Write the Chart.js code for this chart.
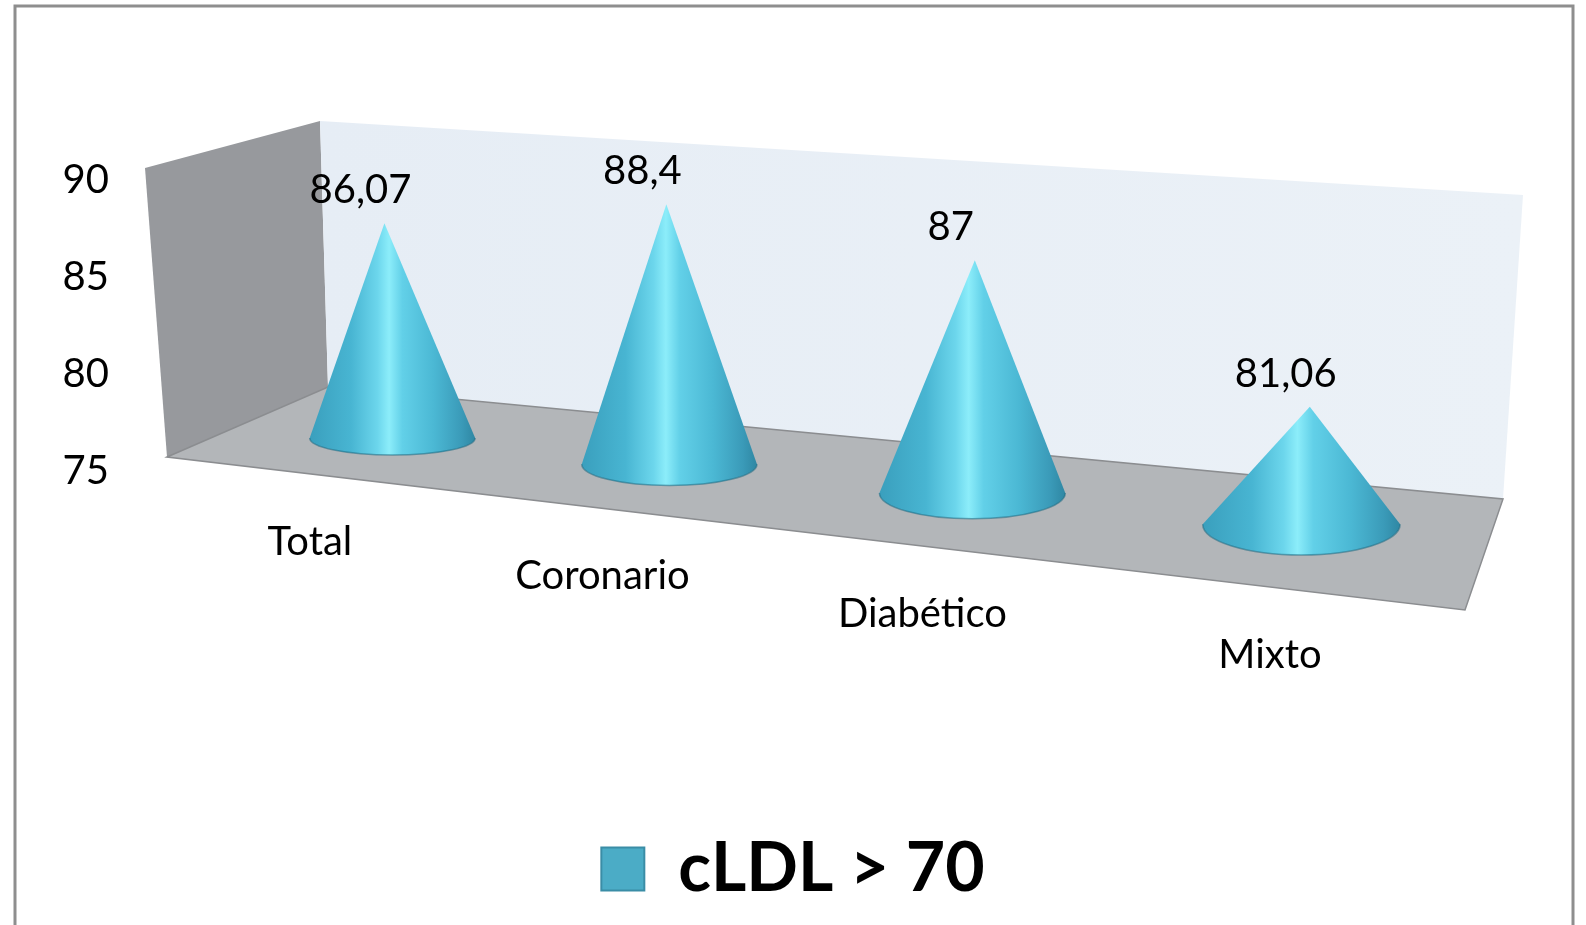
<!DOCTYPE html>
<html>
<head>
<meta charset="utf-8">
<script src="https://cdn.jsdelivr.net/npm/chart.js@4.4.1/dist/chart.umd.min.js"></script>
<style>
  html, body { margin: 0; padding: 0; background: #fff; overflow: hidden; }
  #wrap { width: 1586px; height: 925px; }
</style>
</head>
<body>
<div id="wrap"><canvas id="chart"></canvas></div>
<script>
const categories = ['Total', 'Coronario', 'Diabético', 'Mixto'];
const values = [86.07, 88.4, 87, 81.06];
const yTicks = [75, 80, 85, 90];
const seriesName = 'cLDL > 70';

const FONT = 'Lato, "Open Sans", sans-serif';

function poly(ctx, pts, fill, stroke) {
  ctx.beginPath();
  pts.forEach((p, i) => (i ? ctx.lineTo(p[0], p[1]) : ctx.moveTo(p[0], p[1])));
  ctx.closePath();
  ctx.fillStyle = fill;
  ctx.fill();
  if (stroke) {
    ctx.strokeStyle = stroke;
    ctx.lineWidth = 1.5;
    ctx.stroke();
  }
}

// the x positions spread out a little towards the front, like the 3D view
function warp(x, a) {
  const W = a.right - a.left;
  const u = (x - a.left) / W;
  return a.left + W * (0.027 + 0.828 * u + 0.172 * u * u);
}

const cones = {
  id: 'cones',
  beforeDraw(chart) {
    const { ctx, chartArea: a } = chart;
    const L = a.left, R = a.right, T = a.top, B = a.bottom;
    ctx.save();
    ctx.strokeStyle = '#8e8e8e';
    ctx.lineWidth = 3;
    ctx.strokeRect(15, 6, 1558, 940);

    // side wall, back wall, floor
    poly(ctx, [[L - 86, T - 12], [L + 89, T - 59], [L + 97, B - 84], [L - 64, B - 14]], '#97999d');
    const g = ctx.createLinearGradient(L + 89, 0, R + 80, 0);
    g.addColorStop(0, '#e6edf5');
    g.addColorStop(1, '#ebf1f7');
    poly(ctx, [[L + 89, T - 59], [R + 80, T + 15], [R + 60, B + 28], [L + 97, B - 84]], g);
    poly(ctx, [[L - 64, B - 14], [L + 97, B - 84], [R + 60, B + 28], [R + 22, B + 139]], '#b3b6b9', '#8b8d90');
    ctx.restore();
  },
  beforeDatasetDraw() {
    return false;
  },
  afterDatasetsDraw(chart) {
    const { ctx, chartArea: a, scales: { y } } = chart;
    const meta = chart.getDatasetMeta(0);
    const base = y.getPixelForValue(yTicks[0]);
    const mid = (a.left + a.right) / 2;
    ctx.save();
    meta.data.forEach((bar, i) => {
      const cx = warp(bar.x, a);
      const d = cx - a.left - 152;
      const shift = -34 + 0.095 * d;
      const by = base + shift;
      const rx = bar.width / 2 * (1 + 0.000213 * d);
      const ry = 17 + 0.015 * d;
      const ax = cx + 0.018 * (cx - mid);
      const ay = y.getPixelForValue(values[i]) + shift;

      const g = ctx.createLinearGradient(cx - rx, 0, cx + rx, 0);
      g.addColorStop(0, '#3a9fbd');
      g.addColorStop(0.25, '#48b5d2');
      g.addColorStop(0.41, '#6cd6ec');
      g.addColorStop(0.48, '#8cedfa');
      g.addColorStop(0.56, '#62d0e8');
      g.addColorStop(0.75, '#4bb8d4');
      g.addColorStop(0.92, '#3a9ab8');
      g.addColorStop(1, '#2f87a3');

      ctx.beginPath();
      ctx.moveTo(ax, ay);
      ctx.lineTo(cx - rx, by);
      ctx.ellipse(cx, by, rx, ry, 0, Math.PI, 0, true);
      ctx.closePath();
      ctx.fillStyle = g;
      ctx.fill();

      ctx.beginPath();
      ctx.ellipse(cx, by, rx, ry, 0, Math.PI, 0, true);
      ctx.strokeStyle = 'rgba(30, 105, 130, 0.55)';
      ctx.lineWidth = 1.5;
      ctx.stroke();

      ctx.fillStyle = '#000';
      ctx.font = '40px ' + FONT;
      ctx.textAlign = 'center';
      ctx.textBaseline = 'middle';
      ctx.fillText(String(values[i]).replace('.', ','), ax - 24, ay - 33);
      ctx.fillText(categories[i], cx - 83 + 0.0561 * d, a.bottom + 70 + 0.124 * d);
    });
    ctx.restore();
  }
};

new Chart(document.getElementById('chart'), {
  type: 'bar',
  data: {
    labels: categories,
    datasets: [
      {
        label: seriesName,
        data: values,
        backgroundColor: '#4bacc6',
        borderColor: '#3a8da6',
        borderWidth: 2,
        categoryPercentage: 1,
        barPercentage: 0.545,
      },
    ],
  },
  options: {
    responsive: true,
    maintainAspectRatio: false,
    animation: false,
    layout: {
      padding: { top: 180, right: 0, bottom: 12, left: 0 },
    },
    scales: {
      x: {
        grid: { display: false },
        border: { display: false },
        ticks: { display: false },
        afterFit: scale => { scale.height = 354; },
      },
      y: {
        min: 75,
        max: 90,
        afterBuildTicks: scale => { scale.ticks = yTicks.map(v => ({ value: v })); },
        grid: { display: false },
        border: { display: false },
        ticks: {
          padding: 114,
          color: '#000',
          font: { family: FONT, size: 40 },
        },
        afterFit: scale => { scale.width = 231; },
      },
      y2: {
        position: 'right',
        grid: { display: false },
        border: { display: false },
        ticks: { display: false },
        afterFit: scale => { scale.width = 143; },
      },
    },
    plugins: {
      legend: {
        position: 'bottom',
        labels: {
          boxWidth: 43,
          boxHeight: 43,
          padding: 10,
          color: '#000',
          font: { family: FONT, size: 68, weight: 'bold' },
        },
      },
      tooltip: { enabled: false },
    },
  },
  plugins: [cones],
});
</script>
</body>
</html>
